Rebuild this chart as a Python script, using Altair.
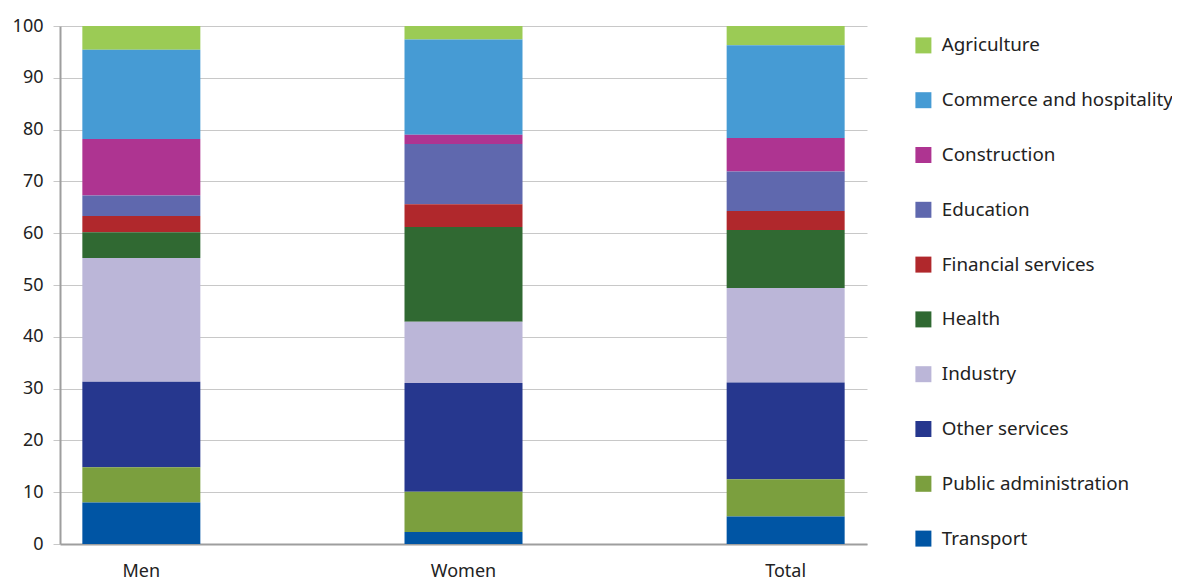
import altair as alt
import pandas as pd

groups = ["Men", "Women", "Total"]
sectors = ["Agriculture", "Commerce and hospitality", "Construction", "Education",
           "Financial services", "Health", "Industry", "Other services",
           "Public administration", "Transport"]
colors = ["#9BCB55", "#469BD4", "#AE3491", "#5F68AE", "#B0282C",
          "#306932", "#BBB6D8", "#26378E", "#7B9F3E", "#0055A4"]

men =   [4.6, 17.2, 10.9, 4.0, 3.1, 5.0, 23.9, 16.5, 6.8, 8.0]
women = [2.6, 18.4, 1.8, 11.6, 4.4, 18.3, 11.8, 21.0, 7.8, 2.3]
total = [3.7, 17.9, 6.5, 7.6, 3.7, 11.2, 18.2, 18.7, 7.2, 5.3]

rows = []
for g, vals in zip(groups, [men, women, total]):
    for i, (s, v) in enumerate(zip(sectors, vals)):
        rows.append({"group": g, "sector": s, "value": v, "ord": len(sectors) - 1 - i})
df = pd.DataFrame(rows)

FONT = "Noto Sans"

chart = alt.Chart(df).mark_bar(size=118).encode(
    x=alt.X("group:N", sort=groups, title=None,
            scale=alt.Scale(paddingInner=0.635, paddingOuter=0.07),
            axis=alt.Axis(labelAngle=0, ticks=False, labelPadding=18,
                          domainColor="#9e9e9e", labelFontSize=18)),
    y=alt.Y("value:Q", stack="zero", title=None,
            scale=alt.Scale(domain=[0, 100], nice=False),
            axis=alt.Axis(values=list(range(0, 101, 10)), tickSize=7,
                          tickColor="#c8c8c8", gridColor="#c8c8c8",
                          domainColor="#9e9e9e", labelPadding=10,
                          labelFontSize=18)),
    color=alt.Color("sector:N", sort=sectors,
                    scale=alt.Scale(domain=sectors, range=colors),
                    legend=alt.Legend(title=None, orient="none", legendX=854, legendY=10,
                                      symbolType="square", symbolSize=256,
                                      symbolStrokeWidth=0, labelFontSize=18.8,
                                      labelOffset=9, rowPadding=34.8,
                                      labelColor="#222222", labelLimit=400)),
    order=alt.Order("ord:Q", sort="ascending"),
).properties(
    width=807, height=518,
    autosize=alt.AutoSizeParams(type="none"),
    padding={"left": 52, "top": 18, "right": 305, "bottom": 40},
).configure_view(stroke=None).configure_axis(
    labelFont=FONT, labelColor="#222222", grid=True, domainWidth=2
).configure_axisX(grid=False).configure_legend(labelFont=FONT)

chart.save("out.html", embed_options={"renderer": "svg", "actions": False})
